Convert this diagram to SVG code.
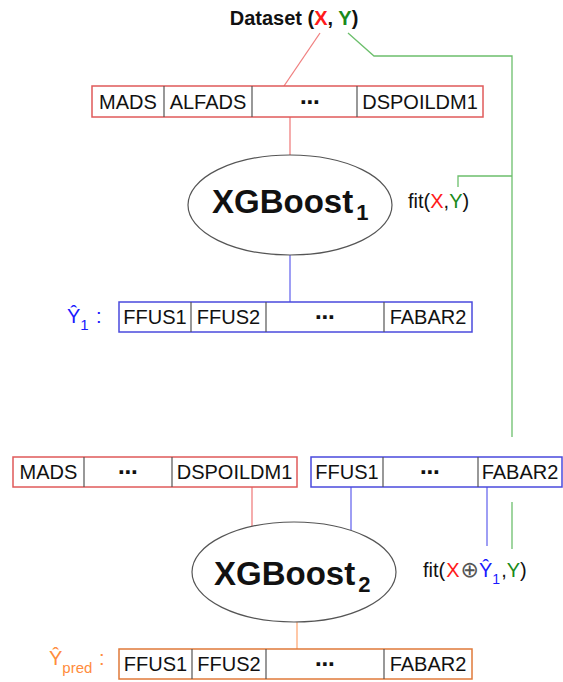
<svg xmlns="http://www.w3.org/2000/svg" width="563" height="682" viewBox="0 0 563 682">
<style>
text{font-family:"Liberation Sans",Arial,sans-serif;fill:#111}
.cell{font-size:20px;text-anchor:middle}
.dots{font-family:"DejaVu Sans",sans-serif;font-size:20px;text-anchor:middle;font-weight:bold}
.div{stroke:#555;stroke-width:1.2}
.box{fill:#fff;stroke-width:1.5}
.ell{fill:#fff;stroke:#555;stroke-width:1.2}
.big{font-size:33px;font-weight:bold}
.r{fill:#ff1a1a}
.g{fill:#1a8a1a}
.b{fill:#1a1aff}
.o{fill:#ff8c3c}
.lr{stroke:#f08080;stroke-width:1.3;fill:none}
.lg{stroke:#6cbf6c;stroke-width:1.3;fill:none}
.lb{stroke:#6a6aee;stroke-width:1.3;fill:none}
.lo{stroke:#ffaa77;stroke-width:1.3;fill:none}
</style>
<rect width="563" height="682" fill="#fff"/>
<g id="connectors">
<path class="lr" d="M320,33 L284,86"/>
<path class="lg" d="M348,33 L374,56 L512,56 L512,437"/>
<path class="lg" d="M512,176 L458,176 L458,187"/>
<path class="lr" d="M290,117 L290,155"/>
<path class="lb" d="M290,255 L290,302"/>
<path class="lr" d="M252,487 L252,526"/>
<path class="lb" d="M351,487 L351,530"/>
<path class="lb" d="M487,487 L487,546"/>
<path class="lg" d="M512,502 L512,549"/>
<path class="lo" d="M297,622 L297,649"/>
</g>
<g id="dataset">
<text x="294" y="25" text-anchor="middle" font-size="20" font-weight="bold">Dataset (<tspan class="r">X</tspan>, <tspan class="g">Y</tspan>)</text>
</g>
<g id="features1">
<rect class="box" x="92" y="86" width="391" height="31" stroke="#e05a5a"/>
<path class="div" d="M164,86 V117 M252,86 V117 M357,86 V117"/>
<text class="cell" x="128" y="109">MADS</text>
<text class="cell" x="208" y="109">ALFADS</text>
<text class="dots" x="310" y="109">⋯</text>
<text class="cell" x="420" y="109">DSPOILDM1</text>
</g>
<g id="xgboost1">
<ellipse class="ell" cx="290" cy="205" rx="102" ry="50"/>
<text class="big" x="212" y="213">XGBoost<tspan dx="3" dy="7" font-size="22">1</tspan></text>
</g>
<g id="fit1">
<text x="408" y="208" font-size="20">fit(<tspan class="r">X</tspan>,<tspan class="g">Y</tspan>)</text>
</g>
<g id="y1">
<text class="b" x="67" y="323" font-size="20">Ŷ<tspan font-size="15" dy="7">1</tspan></text>
<text class="b" x="96" y="323" font-size="20">:</text>
<rect class="box" x="119" y="302" width="353" height="30" stroke="#4a4add"/>
<path class="div" d="M191,302 V332 M266,302 V332 M384,302 V332"/>
<text class="cell" x="155" y="324">FFUS1</text>
<text class="cell" x="228.5" y="324">FFUS2</text>
<text class="dots" x="325" y="324">⋯</text>
<text class="cell" x="428" y="324">FABAR2</text>
</g>
<g id="features2">
<rect class="box" x="13" y="457" width="284" height="30" stroke="#e05a5a"/>
<path class="div" d="M84,457 V487 M172,457 V487"/>
<text class="cell" x="48.5" y="479">MADS</text>
<text class="dots" x="128" y="479">⋯</text>
<text class="cell" x="234.5" y="479">DSPOILDM1</text>
</g>
<g id="y1input">
<rect class="box" x="311" y="457" width="251" height="30" stroke="#4a4add"/>
<path class="div" d="M383,457 V487 M478,457 V487"/>
<text class="cell" x="347" y="479">FFUS1</text>
<text class="dots" x="430" y="479">⋯</text>
<text class="cell" x="520" y="479">FABAR2</text>
</g>
<g id="xgboost2">
<ellipse class="ell" cx="294" cy="572" rx="102" ry="50"/>
<text class="big" x="214" y="585">XGBoost<tspan dx="3" dy="7" font-size="22">2</tspan></text>
</g>
<g id="fit2">
<text x="423" y="577" font-size="20">fit(<tspan class="r" dx="1">X</tspan><tspan dx="1" font-size="22" style="font-family:'DejaVu Sans',sans-serif;fill:#555">⊕</tspan><tspan class="b">Ŷ</tspan><tspan class="b" font-size="14" dy="7">1</tspan><tspan dx="1" dy="-7">,</tspan><tspan class="g">Y</tspan>)</text>
</g>
<g id="ypred">
<text class="o" x="49" y="665" font-size="20">Ŷ<tspan font-size="15" dy="8">pred</tspan></text>
<text class="o" x="99" y="665" font-size="20">:</text>
<rect class="box" x="119" y="649" width="353" height="30" stroke="#e07a3a"/>
<path class="div" d="M192,649 V679 M266,649 V679 M384,649 V679"/>
<text class="cell" x="155.5" y="671">FFUS1</text>
<text class="cell" x="229" y="671">FFUS2</text>
<text class="dots" x="325" y="671">⋯</text>
<text class="cell" x="428" y="671">FABAR2</text>
</g>
</svg>
